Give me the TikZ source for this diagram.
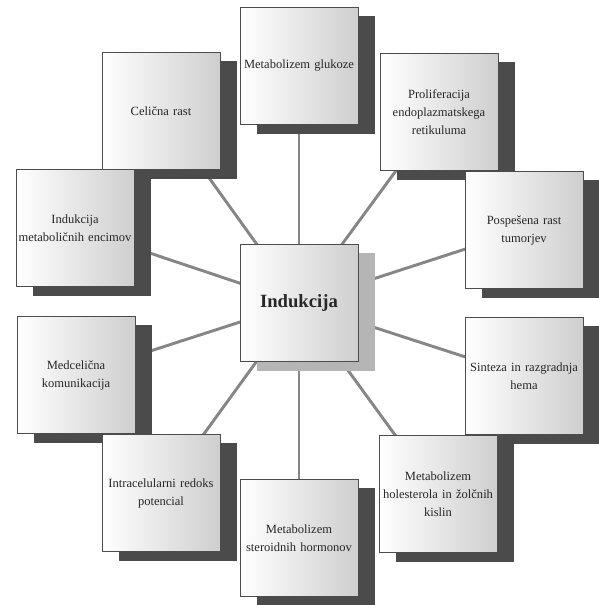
\documentclass[tikz,border=0pt]{standalone}
\usepackage{fontspec}
\setmainfont{Liberation Serif}
\usetikzlibrary{shadows,backgrounds}

\definecolor{shadowdark}{HTML}{4B4B4B}
\definecolor{shadowlight}{HTML}{B5B5B5}
\definecolor{linkgray}{HTML}{868686}

\begin{document}
\begin{tikzpicture}[
		x=0.75pt, y=-0.75pt,
		box/.style={rectangle,draw=black!70,semithick,left color=white,right color=black!19,
		minimum width=88.5pt,minimum height=88pt,text width=88pt,align=center,
		inner sep=0pt,text=black!85},
		topic/.style={box,font=\fontsize{9.4}{13.5}\selectfont,
		general shadow={fill=shadowdark,shadow xshift=12.75pt,shadow yshift=-6.75pt}},
		hub/.style={box,font=\fontsize{14}{16}\selectfont\bfseries,
		general shadow={fill=shadowlight,shadow xshift=12.75pt,shadow yshift=-6.75pt}},
		link/.style={draw=linkgray,line width=2.2pt}
		]
		\useasboundingbox (0,0) rectangle (598,605);

		% outer ring, top to bottom so that lower boxes cover upper shadows
		\node[topic] (glukoza) at (299,66) {Metabolizem glukoze};
		\node[topic] (rast) at (161,111) {Celična rast};
		\node[topic] (er) at (439,112)
			{Proliferacija\\ endoplazmatskega\\ retikuluma};
		\node[topic] (encimi) at (75,228)
			{Indukcija\\ metaboličnih encimov};
		\node[topic] (tumor) at (524,230) {Pospešena rast\\ tumorjev};
		\node[hub] (ind) at (299,303) {Indukcija};
		\node[topic] (kom) at (76,375) {Medcelična\\ komunikacija};
		\node[topic] (hem) at (524,376) {Sinteza in razgradnja\\ hema};
		\node[topic] (redoks) at (161,493)
			{Intracelularni redoks\\ potencial};
		\node[topic] (hol) at (438,494)
			{Metabolizem\\ holesterola in žolčnih\\ kislin};
		\node[topic] (steroid) at (299,538)
			{Metabolizem\\ steroidnih hormonov};

		% spokes behind everything
		\begin{pgfonlayer}{background}
		\draw[link] (ind.center) -- (glukoza.center);
		\draw[link] (ind.center) -- (rast.center);
		\draw[link] (ind.center) -- (er.center);
		\draw[link] (ind.center) -- (encimi.center);
		\draw[link] (ind.center) -- (tumor.center);
		\draw[link] (ind.center) -- (kom.center);
		\draw[link] (ind.center) -- (hem.center);
		\draw[link] (ind.center) -- (redoks.center);
		\draw[link] (ind.center) -- (hol.center);
		\draw[link] (ind.center) -- (steroid.center);
		\end{pgfonlayer}
	\end{tikzpicture}
\end{document}
